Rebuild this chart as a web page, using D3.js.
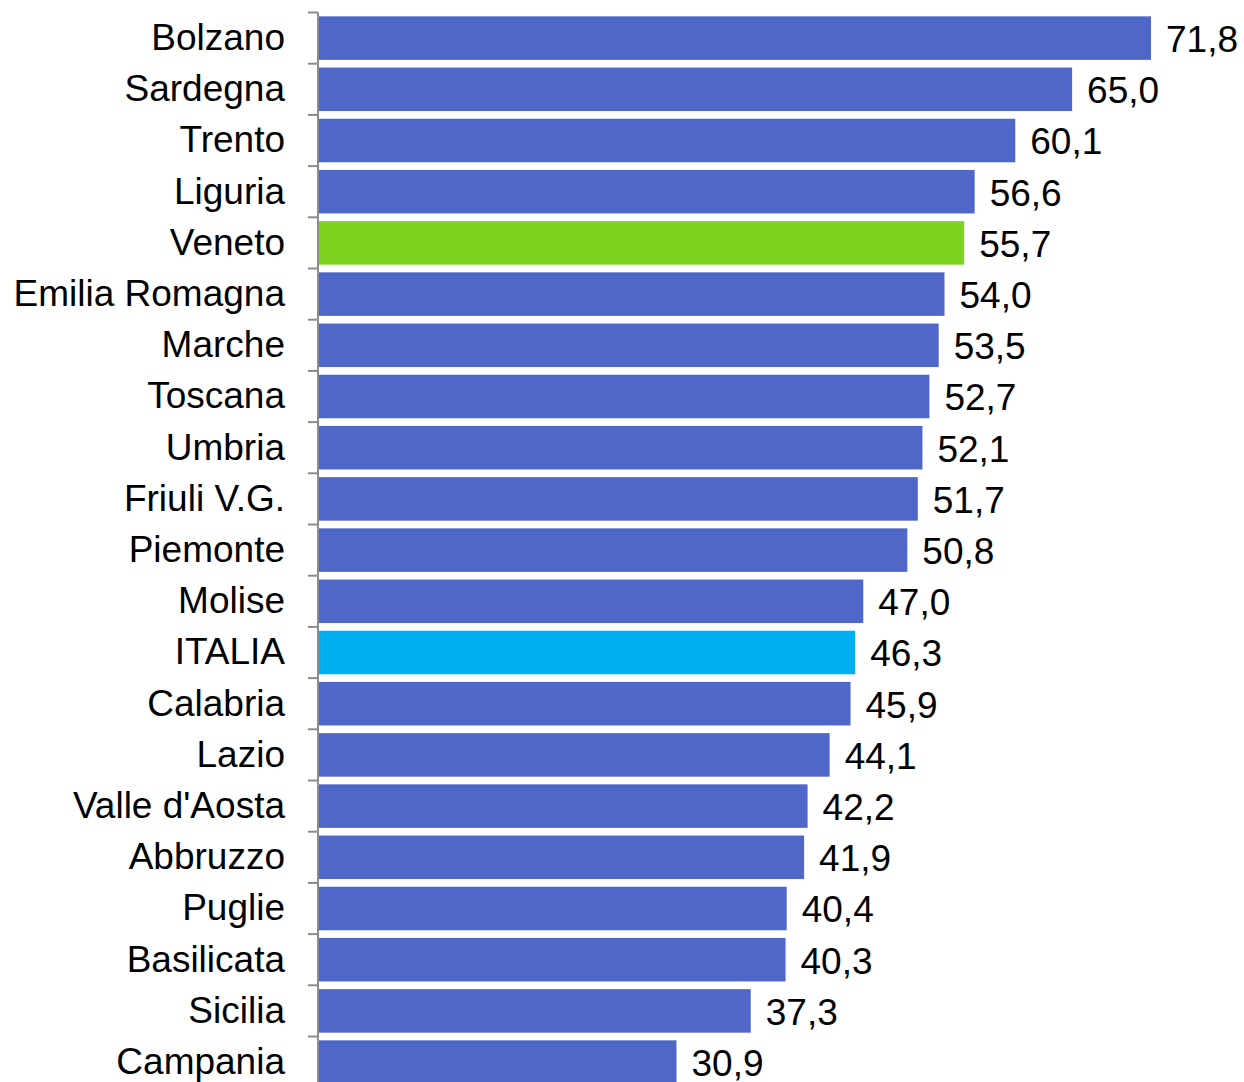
<!DOCTYPE html>
<head>
    <meta charset="UTF-8">
    <title>Regioni</title>
    <style>
        body { margin: 0; background: #fff; }
        text { font-family: "Liberation Sans", Arial, sans-serif; }
    </style>
</head>
<body>
    <script src="https://d3js.org/d3.v7.min.js"></script>
    <script>
        // dati
        var regioni = ["Bolzano", "Sardegna", "Trento", "Liguria", "Veneto", "Emilia Romagna", "Marche",
            "Toscana", "Umbria", "Friuli V.G.", "Piemonte", "Molise", "ITALIA", "Calabria", "Lazio",
            "Valle d'Aosta", "Abbruzzo", "Puglie", "Basilicata", "Sicilia", "Campania"]
        var valori = [71.8, 65.0, 60.1, 56.6, 55.7, 54.0, 53.5, 52.7, 52.1, 51.7, 50.8, 47.0, 46.3,
            45.9, 44.1, 42.2, 41.9, 40.4, 40.3, 37.3, 30.9]

        var width = 1244
        var height = 1082
        var x0 = 318 // posizione asse
        var top0 = 12.5
        var step = 51.2

        var svg = d3.select("body")
            .append("svg")
            .attr("width", width)
            .attr("height", height)

        var x = d3.scaleLinear()
            .domain([0, 71.8])
            .range([x0, 1151])

        var y = d3.scaleBand()
            .domain(regioni)
            .range([top0, top0 + step * regioni.length])
            .paddingInner(0.15)
            .paddingOuter(0.075)

        function colore(nome) {
            if (nome == "Veneto") return "#7ED321"
            if (nome == "ITALIA") return "#00B0F0"
            return "#4F67C9"
        }

        // barre
        svg.selectAll("rect.bar")
            .data(regioni)
            .enter()
            .append("rect")
            .attr("class", "bar")
            .attr("x", x(0) + 1)
            .attr("y", function(d){ return y(d) })
            .attr("width", function(d, i){ return x(valori[i]) - x(0) - 1 })
            .attr("height", y.bandwidth())
            .attr("fill", function(d){ return colore(d) })

        // valori
        svg.selectAll("text.val")
            .data(regioni)
            .enter()
            .append("text")
            .attr("class", "val")
            .attr("x", function(d, i){ return x(valori[i]) + 15 })
            .attr("y", function(d){ return y(d) + y.bandwidth() / 2 + 1 })
            .attr("dy", "0.35em")
            .attr("font-size", "37px")
            .attr("fill", "#000")
            .text(function(d, i){ return d3.format(".1f")(valori[i]).replace(".", ",") })

        // asse con tacche tra le categorie
        var asse = svg.append("g").attr("class", "asse")
        asse.append("line")
            .attr("x1", x0).attr("x2", x0)
            .attr("y1", top0).attr("y2", height)
            .attr("stroke", "#8c8c8c").attr("stroke-width", 2)
        asse.selectAll("line.tick")
            .data(d3.range(regioni.length + 1))
            .enter()
            .append("line")
            .attr("class", "tick")
            .attr("x1", x0 - 10).attr("x2", x0)
            .attr("y1", function(i){ return top0 + i * step })
            .attr("y2", function(i){ return top0 + i * step })
            .attr("stroke", "#8c8c8c").attr("stroke-width", 2)

        // etichette categorie
        svg.selectAll("text.cat")
            .data(regioni)
            .enter()
            .append("text")
            .attr("class", "cat")
            .attr("x", 285)
            .attr("y", function(d){ return y(d) + y.bandwidth() / 2 - 1 })
            .attr("dy", "0.35em")
            .attr("text-anchor", "end")
            .attr("font-size", "37px")
            .attr("fill", "#000")
            .text(function(d){ return d })
    </script>
</body>
</html>
